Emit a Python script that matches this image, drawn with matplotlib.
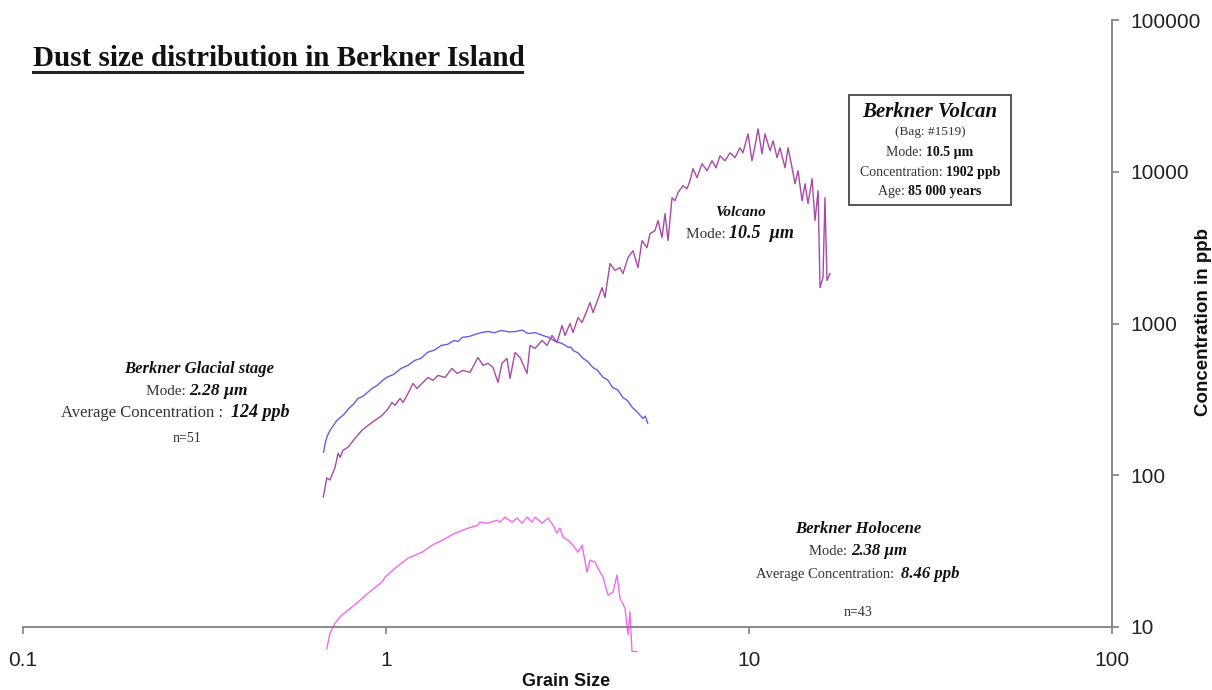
import matplotlib
matplotlib.use('Agg')
import matplotlib.pyplot as plt
from matplotlib.lines import Line2D
from matplotlib.patches import Rectangle

# ---------------- data ----------------
x_ticks = [0.1, 1, 10, 100]
x_tick_labels = ['0.1', '1', '10', '100']
y_ticks = [10, 100, 1000, 10000, 100000]
y_tick_labels = ['10', '100', '1000', '10000', '100000']

glacial_size = [0.673, 0.681, 0.690, 0.703, 0.717, 0.730, 0.743, 0.766, 0.790, 0.812,
                0.837, 0.862, 0.890, 0.917, 0.946, 0.975, 1.005, 1.05, 1.10, 1.15,
                1.20, 1.25, 1.30, 1.36, 1.42, 1.48, 1.54, 1.58, 1.62, 1.69,
                1.76, 1.83, 1.91, 1.99, 2.08, 2.18, 2.28, 2.37, 2.46, 2.58,
                2.70, 2.81, 2.93, 3.05, 3.18, 3.23, 3.28, 3.38, 3.49, 3.60,
                3.71, 3.83, 3.96, 4.08, 4.21, 4.35, 4.49, 4.63, 4.77, 4.93,
                5.10, 5.18, 5.26]
glacial_conc = [142, 165, 183, 200, 213, 228, 237, 252, 276, 292,
                321, 330, 352, 375, 391, 418, 442, 462, 506, 530,
                571, 590, 645, 668, 717, 730, 773, 760, 809, 820,
                847, 872, 886, 870, 900, 880, 886, 905, 859, 870,
                834, 810, 762, 740, 696, 700, 664, 640, 589, 560,
                514, 490, 442, 425, 379, 365, 326, 310, 280, 260,
                237, 245, 220]

volcano_size = [0.672, 0.687, 0.701, 0.724, 0.738, 0.747, 0.761, 0.786, 0.821, 0.859,
                0.892, 0.933, 0.975, 1.006, 1.039, 1.059, 1.093, 1.114, 1.150, 1.187,
                1.217, 1.257, 1.305, 1.347, 1.391, 1.454, 1.520, 1.569, 1.630, 1.704,
                1.792, 1.850, 1.910, 1.971, 2.035, 2.087, 2.154, 2.196, 2.267, 2.340,
                2.446, 2.493, 2.574, 2.691, 2.777, 2.867, 2.959, 3.054, 3.113, 3.213,
                3.275, 3.381, 3.468, 3.579, 3.648, 3.718, 3.886, 3.936, 4.011, 4.141,
                4.275, 4.411, 4.496, 4.642, 4.791, 4.946, 5.073, 5.236, 5.337, 5.508,
                5.615, 5.759, 5.870, 5.983, 6.137, 6.254, 6.375, 6.580, 6.749, 6.878,
                7.011, 7.191, 7.422, 7.661, 7.908, 8.111, 8.319, 8.587, 8.865, 9.150,
                9.445, 9.627, 9.937, 10.19, 10.39, 10.59, 10.86, 11.07, 11.43, 11.65,
                11.95, 12.17, 12.57, 12.81, 13.14, 13.39, 13.65, 14.00, 14.27, 14.54,
                14.92, 15.20, 15.50, 15.69, 15.99, 16.19, 16.40, 16.72]
volcano_conc = [72, 96, 93, 113, 140, 131, 146, 153, 175, 198,
                213, 230, 248, 268, 302, 289, 321, 302, 346, 403,
                373, 403, 441, 422, 455, 441, 506, 469, 491, 476,
                597, 530, 546, 514, 409, 546, 589, 435, 644, 597,
                469, 717, 685, 773, 717, 834, 750, 970, 834, 1000,
                873, 1095, 1016, 1219, 1375, 1181, 1575, 1725, 1483, 2483,
                2233, 2335, 2133, 2716, 3020, 2335, 3516, 3162, 3908, 4093,
                4764, 3681, 5300, 3516, 6745, 6442, 7278, 8091, 7727, 8730,
                10470, 9140, 11300, 10160, 11810, 10620, 12740, 11810, 13330, 12370,
                14390, 13330, 17780, 11810, 14830, 19190, 13120, 17780, 13740, 16000,
                12370, 14390, 10620, 14390, 10620, 8337, 10160, 6442, 8337, 6152,
                8995, 4764, 7499, 1725, 2009, 6745, 1919, 2133]

holocene_size = [0.687, 0.701, 0.724, 0.755, 0.786, 0.837, 0.892, 0.975, 0.994, 1.059,
                 1.150, 1.257, 1.339, 1.427, 1.549, 1.683, 1.792, 1.816, 1.910, 2.022,
                 2.062, 2.127, 2.224, 2.296, 2.370, 2.446, 2.525, 2.574, 2.691, 2.795,
                 2.885, 2.959, 3.015, 3.073, 3.172, 3.275, 3.381, 3.468, 3.579, 3.648,
                 3.766, 3.837, 3.962, 4.089, 4.221, 4.329, 4.411, 4.554, 4.642, 4.700,
                 4.760, 4.914]
holocene_conc = [7.2, 9.1, 10.6, 12.0, 12.9, 14.6, 16.7, 19.8, 21.3, 24.4,
                 28.4, 31.1, 34.6, 37.3, 41.5, 44.8, 46.9, 49.1, 48.3, 50.6,
                 49.1, 53.0, 49.1, 52.2, 48.3, 53.0, 49.1, 53.0, 48.3, 52.2,
                 46.9, 41.5, 44.8, 39.1, 37.3, 34.6, 31.1, 34.6, 23.0, 27.6,
                 26.8, 24.4, 21.3, 16.2, 17.0, 22.0, 15.5, 13.3, 8.9, 12.6,
                 6.9, 6.9]

# ---------------- figure ----------------
W, H = 1212, 690
SERIF = 'Liberation Serif'
SANS = 'Liberation Sans'
fig = plt.figure(figsize=(W / 100, H / 100), dpi=100)
fig.patch.set_facecolor('white')

ax = fig.add_axes([23 / W, 1 - 627 / H, (1112 - 23) / W, (627 - 20) / H])
ax.set_xscale('log')
ax.set_yscale('log')
ax.set_xlim(0.1, 100)
ax.set_ylim(10, 100000)

ax.plot(glacial_size, glacial_conc, color='#5F60E6', lw=1.0)
ax.plot(volcano_size, volcano_conc, color='#A64AA8', lw=1.0)
ax.plot(holocene_size, holocene_conc, color='#F06AF0', lw=1.0, clip_on=False)

for s in ['left', 'top']:
    ax.spines[s].set_visible(False)
for s in ['bottom', 'right']:
    ax.spines[s].set_color('#808080')
    ax.spines[s].set_linewidth(1.3)

ax.yaxis.tick_right()
ax.set_xticks(x_ticks)
ax.set_xticklabels(x_tick_labels)
ax.set_yticks(y_ticks)
ax.set_yticklabels(y_tick_labels)
ax.minorticks_off()
ax.tick_params(axis='both', direction='out', length=5, width=1.2, color='#808080')
ax.tick_params(axis='x', pad=12)
ax.tick_params(axis='y', pad=8)
for lab in ax.get_xticklabels() + ax.get_yticklabels():
    lab.set_fontfamily(SANS)
    lab.set_fontsize(15)
    lab.set_color('#222222')

fig.text(566 / W, 1 - 681 / H, 'Grain Size', family=SANS, weight='bold',
         fontsize=13, ha='center', va='center', color='#111111')
fig.text(1204 / W, 1 - 322 / H, 'Concentration in ppb', family=SANS, weight='bold',
         fontsize=13.5, ha='center', va='center', rotation=90, color='#111111')

# title with underline
fig.text(33 / W, 1 - 66 / H, 'Dust size distribution in Berkner Island', family=SERIF,
         weight='bold', fontsize=21, ha='left', va='baseline', color='#111111')
fig.add_artist(Line2D([33 / W, 522 / W], [1 - 72 / H, 1 - 72 / H],
                      transform=fig.transFigure, color='#222222', lw=2.2))

renderer = fig.canvas.get_renderer()
NORM = dict(family=SERIF, color='#333333')
BI = dict(family=SERIF, weight='bold', style='italic', color='#111111')
B = dict(family=SERIF, weight='bold', color='#111111')


def rich(xc, ybase, parts):
    """Place a line made of differently styled pieces centred on xc (pixels),
    baseline at ybase (pixels from top)."""
    texts, widths = [], []
    for s, kw, fs in parts:
        t = fig.text(0, 0, s, fontsize=fs, ha='left', va='baseline', **kw)
        widths.append(t.get_window_extent(renderer).width)
        texts.append(t)
    x0 = xc - sum(widths) / 2
    for t, w in zip(texts, widths):
        t.set_position((x0 / W, 1 - ybase / H))
        x0 += w


# Berkner Volcan box
fig.add_artist(Rectangle((849 / W, 1 - 205 / H), 162 / W, 110 / H, transform=fig.transFigure,
                         fill=False, ec='#555555', lw=1.4))
rich(930, 117, [('Berkner Volcan', BI, 15)])
rich(930, 135, [('(Bag: #1519)', NORM, 9.5)])
rich(930, 156, [('Mode: ', NORM, 10), ('10.5 µm', B, 10)])
rich(930, 176, [('Concentration: ', NORM, 10), ('1902 ppb', B, 10)])
rich(930, 195, [('Age: ', NORM, 10), ('85 000 years', B, 10)])

# Volcano label
rich(740, 216, [('Volcano', BI, 11)])
rich(740, 238, [('Mode: ', NORM, 11), ('10.5  µm', BI, 13)])

# Glacial label
rich(199, 373, [('Berkner Glacial stage', BI, 12)])
rich(197, 395, [('Mode: ', NORM, 11), ('2.28 µm', BI, 12.5)])
rich(175, 417, [('Average Concentration :  ', NORM, 12), ('124 ppb', BI, 13)])
rich(187, 442, [('n=51', NORM, 10)])

# Holocene label
rich(858, 533, [('Berkner Holocene', BI, 12)])
rich(858, 555, [('Mode: ', NORM, 10.5), ('2.38 µm', BI, 12)])
rich(858, 578, [('Average Concentration:  ', NORM, 10.5), ('8.46 ppb', BI, 12)])
rich(858, 616, [('n=43', NORM, 10)])

fig.savefig('out.png', dpi=100, facecolor='white')
